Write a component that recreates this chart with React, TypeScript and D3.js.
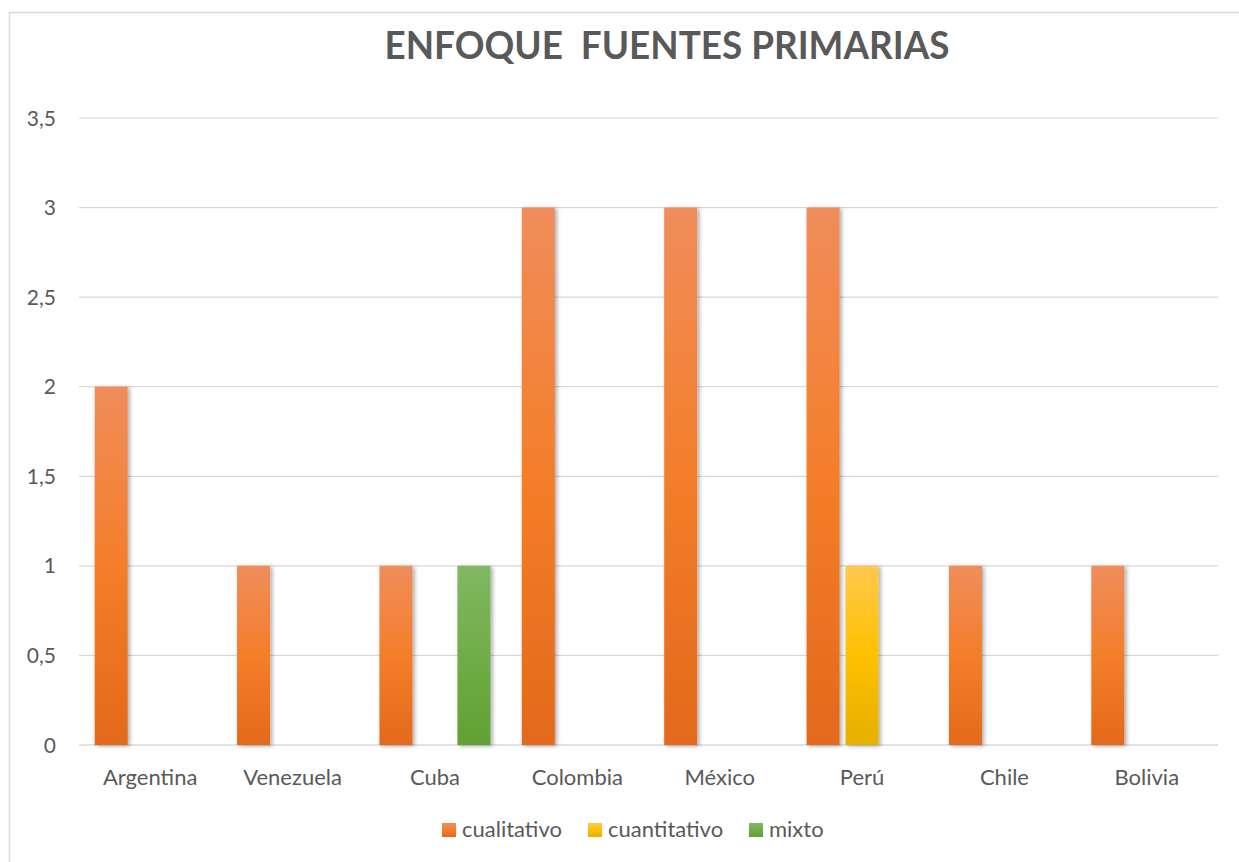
import React from "react";
import * as d3 from "d3";

const categories = ["Argentina", "Venezuela", "Cuba", "Colombia", "México", "Perú", "Chile", "Bolivia"];
const seriesNames = ["cualitativo", "cuantitativo", "mixto"];
const cualitativo = [2, 1, 1, 3, 3, 3, 1, 1];
const cuantitativo = [0, 0, 0, 0, 0, 1, 0, 0];
const mixto = [0, 0, 1, 0, 0, 0, 0, 0];
const yTicks = [0, 0.5, 1, 1.5, 2, 2.5, 3, 3.5];
const title = "ENFOQUE  FUENTES PRIMARIAS";

const seriesValues = [cualitativo, cuantitativo, mixto];
const gradients = [
  ["#F08D5B", "#F47E2A", "#E3691A"],
  ["#FFC84D", "#FFC000", "#E5B000"],
  ["#82B764", "#70AD47", "#61A033"],
];

const W = 1239;
const H = 862;
const left = 79;
const right = 1218;
const top = 118;
const bottom = 745;
const font = "Lato, 'Open Sans', sans-serif";

export default function App() {
  const x = d3.scaleBand<string>().domain(categories).range([left, right]).padding(0);
  const groupW = 111;
  const inner = d3
    .scaleBand<string>()
    .domain(seriesNames)
    .range([0, groupW])
    .paddingInner(6 / 39)
    .paddingOuter(0);
  const y = d3.scaleLinear().domain([0, 3.5]).range([bottom, top]);
  const fmt = (v: number) => String(v).replace(".", ",");

  const legendItems = [
    { name: "cualitativo", x: 442 },
    { name: "cuantitativo", x: 588 },
    { name: "mixto", x: 749 },
  ];

  return (
    <svg
      width={W}
      height={H}
      style={{ position: "absolute", left: 0, top: 0, display: "block", background: "#fff" }}
    >
      <defs>
        {gradients.map((g, i) => (
          <linearGradient key={i} id={`grad${i}`} x1="0" y1="0" x2="0" y2="1">
            <stop offset="0" stopColor={g[0]} />
            <stop offset="0.5" stopColor={g[1]} />
            <stop offset="1" stopColor={g[2]} />
          </linearGradient>
        ))}
        <filter id="shadow" x="-30%" y="-5%" width="160%" height="115%">
          <feDropShadow dx="2" dy="1" stdDeviation="2" floodColor="#000" floodOpacity="0.35" />
        </filter>
      </defs>
      <rect x={9.5} y={12.5} width={1300} height={900} fill="#fff" stroke="#d9d9d9" strokeWidth={1.5} />

      <text
        x={667}
        y={59}
        textAnchor="middle"
        fontFamily={font}
        fontWeight="bold"
        fontSize={39}
        fill="#595959"
        textLength={565}
        lengthAdjust="spacingAndGlyphs"
        style={{ whiteSpace: "pre" }}
      >
        {title}
      </text>

      {yTicks.map((t) => (
        <g key={t}>
          <line x1={left} x2={right} y1={y(t)} y2={y(t)} stroke="#d9d9d9" strokeWidth={t === 0 ? 1.5 : 1.2} />
          <text
            x={56}
            y={y(t) + 7.5}
            textAnchor="end"
            fontFamily={font}
            fontSize={21}
            fill="#595959"
          >
            {fmt(t)}
          </text>
        </g>
      ))}

      {categories.map((c, ci) => {
        const cx = (x(c) as number) + x.bandwidth() / 2;
        const gx = cx - groupW / 2;
        return (
          <g key={c}>
            {seriesNames.map((s, si) => {
              const v = seriesValues[si][ci];
              if (v <= 0) return null;
              return (
                <rect
                  key={s}
                  x={gx + (inner(s) as number)}
                  y={y(v)}
                  width={inner.bandwidth()}
                  height={y(0) - y(v)}
                  fill={`url(#grad${si})`}
                  filter="url(#shadow)"
                />
              );
            })}
            <text x={cx} y={785} textAnchor="middle" fontFamily={font} fontSize={22} fill="#595959">
              {c}
            </text>
          </g>
        );
      })}

      {legendItems.map((l, i) => (
        <g key={l.name}>
          <rect x={l.x} y={823} width={14} height={14} fill={`url(#grad${i})`} />
          <text x={l.x + 20} y={837} fontFamily={font} fontSize={22} fill="#595959">
            {l.name}
          </text>
        </g>
      ))}
    </svg>
  );
}
